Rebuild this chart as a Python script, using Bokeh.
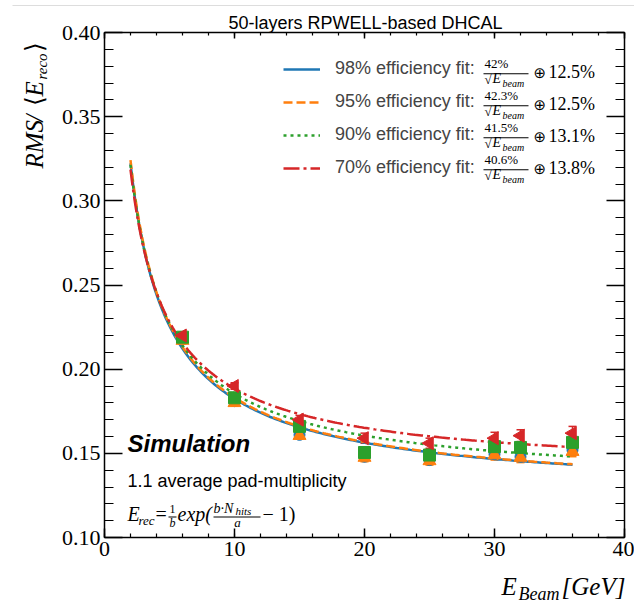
import numpy as np
from bokeh.plotting import figure
from bokeh.models import (Label, LinearAxis, SingleIntervalTicker, PrintfTickFormatter,
                          Legend, LegendItem, Whisker, ColumnDataSource, BoxAnnotation, TeeHead,
                          Range1d)
from bokeh.embed import file_html
from bokeh.resources import INLINE

# ---------------- data ----------------
energies = [6, 10, 15, 20, 25, 30, 32, 36]
eff_labels = ["98% efficiency fit:", "95% efficiency fit:", "90% efficiency fit:", "70% efficiency fit:"]
stoch_terms = ["42%", "42.3%", "41.5%", "40.6%"]
const_terms = ["12.5%", "12.5%", "13.1%", "13.8%"]
fit_a = [0.42, 0.423, 0.415, 0.406]
fit_c = [0.125, 0.125, 0.131, 0.138]
fit_emin = 2
fit_emax = 36

res_98 = [0.218, 0.181, 0.161, 0.148, 0.146, 0.1495, 0.148, 0.152]
res_95 = [0.217, 0.180, 0.1605, 0.1475, 0.1455, 0.149, 0.1475, 0.151]
res_90 = [0.219, 0.183, 0.166, 0.1505, 0.149, 0.154, 0.1535, 0.1565]
res_70 = [0.220, 0.190, 0.170, 0.159, 0.156, 0.159, 0.1605, 0.162]
err_98 = [0.002, 0.002, 0.002, 0.0025, 0.0025, 0.003, 0.003, 0.003]
err_95 = [0.002, 0.002, 0.002, 0.0025, 0.0025, 0.003, 0.003, 0.003]
err_90 = [0.002, 0.002, 0.0025, 0.0025, 0.003, 0.003, 0.003, 0.0035]
err_70 = [0.002, 0.002, 0.0025, 0.003, 0.003, 0.0035, 0.0035, 0.004]

series_vals = [res_98, res_95, res_90, res_70]
series_errs = [err_98, err_95, err_90, err_70]
colors = ["#1f77b4", "#ff7f0e", "#2ca02c", "#d62728"]
dashes = ["solid", "9 4", "3 4", "16 4 3 4"]
markers = ["circle", "triangle", "square", "triangle"]
marker_sizes = [11, 13, 12, 13]
marker_angles = [0, 0, 0, np.pi / 2]

X0, X1 = 0, 40
Y0, Y1 = 0.10, 0.40

# ---------------- geometry (page pixels) ----------------
W, H = 634, 603
PX_L, PX_R, PY_T, PY_B = 104, 624, 32, 537   # where the axes box sits on the page
sx = (PX_R - PX_L) / (X1 - X0)
sy = (PY_B - PY_T) / (Y1 - Y0)
x_range = Range1d(X0 - PX_L / sx, X1 + (W - PX_R) / sx)
y_range = Range1d(Y0 - (H - PY_B) / sy, Y1 + PY_T / sy)

p = figure(width=W, height=H, x_range=x_range, y_range=y_range,
           output_backend="svg", toolbar_location=None,
           x_axis_location=None, y_axis_location=None, min_border=0)
p.min_border_left = p.min_border_right = p.min_border_top = p.min_border_bottom = 0
p.grid.visible = False
p.outline_line_color = None
p.background_fill_color = "white"
p.border_fill_color = "white"

def make_axis(kind, side):
    if kind == "x":
        ax = LinearAxis(ticker=SingleIntervalTicker(interval=10, num_minor_ticks=5),
                        formatter=PrintfTickFormatter(format="%d"),
                        bounds=(X0, X1), fixed_location=(Y0 if side == "below" else Y1))
    else:
        ax = LinearAxis(ticker=SingleIntervalTicker(interval=0.05, num_minor_ticks=5),
                        formatter=PrintfTickFormatter(format="%.2f"),
                        bounds=(Y0, Y1), fixed_location=(X0 if side == "left" else X1))
    ax.axis_line_width = 1.5
    ax.major_tick_line_width = 1.5
    ax.minor_tick_line_width = 1.2
    ax.major_tick_out = 0
    ax.minor_tick_out = 0
    if side == "below":
        ax.major_tick_in = 9
        ax.minor_tick_in = 4
    elif side == "above":
        ax.major_tick_in = 6
        ax.minor_tick_in = 3
    else:
        ax.major_tick_in = 18
        ax.minor_tick_in = 9
    if side in ("below", "left"):
        ax.major_label_text_font = "Liberation Serif"
        ax.major_label_text_font_size = "22px"
        ax.major_label_text_color = "black"
        ax.major_label_standoff = 4
    else:
        ax.major_label_text_color = None
    p.add_layout(ax, side)
    return ax

make_axis("x", "below")
make_axis("x", "above")
make_axis("y", "left")
make_axis("y", "right")

# ---------------- fit curves ----------------
e_fine = np.linspace(fit_emin, fit_emax, 200)
line_renderers = []
for a, c, col, dash in zip(fit_a, fit_c, colors, dashes):
    yv = np.sqrt((a / np.sqrt(e_fine)) ** 2 + c ** 2)
    r = p.line(e_fine, yv, line_color=col, line_width=2.5, line_dash=dash)
    line_renderers.append(r)

# ---------------- data points ----------------
for vals, errs, col, mk, ms, ang in zip(series_vals, series_errs, colors, markers, marker_sizes, marker_angles):
    v = np.array(vals)
    e = np.array(errs)
    src = ColumnDataSource(dict(x=energies, y=v, lo=v - e, hi=v + e))
    w = Whisker(source=src, base="x", upper="hi", lower="lo", dimension="height",
                line_color=col, line_width=1.5,
                upper_head=TeeHead(size=8, line_color=col, line_width=1.5),
                lower_head=TeeHead(size=8, line_color=col, line_width=1.5))
    p.add_layout(w)
    p.scatter("x", "y", source=src, marker=mk, size=ms, angle=ang,
              fill_color=col, line_color=col)

# ---------------- legend ----------------
ROW0 = 69.3
PITCH = 32
items = [LegendItem(label=lbl, renderers=[r]) for lbl, r in zip(eff_labels, line_renderers)]
leg_height = 4 * 20 + 3 * 12
leg_top = ROW0 - 10 + 3
legend = Legend(items=items, location=(283, H - (leg_top + leg_height)),
                padding=0, margin=0, spacing=12, glyph_height=20, glyph_width=37,
                label_height=20, label_standoff=15,
                label_text_font="Liberation Sans", label_text_font_size="18px",
                border_line_color=None, background_fill_alpha=0)
p.add_layout(legend)

BASE_SHIFT = 0.38  # em: measured downward drift of 'alphabetic' anchors

def lab(text, px, py, size, style="normal", font="Liberation Serif", align="left", angle=0.0):
    d = BASE_SHIFT * size
    ax_ = px - np.sin(angle) * d
    ay_ = py - np.cos(angle) * d
    p.add_layout(Label(x=ax_, y=H - ay_, x_units="screen", y_units="screen", text=text,
                       text_font=font, text_font_size=f"{size}px", text_font_style=style,
                       text_align=align, text_baseline="alphabetic", angle=angle,
                       text_color="black"))

def hbar(x0, x1, py, th=1.0, color="black"):
    p.add_layout(BoxAnnotation(left=x0, right=x1, top=H - (py - th / 2),
                               bottom=H - (py + th / 2), left_units="screen",
                               right_units="screen", top_units="screen", bottom_units="screen",
                               fill_color=color, fill_alpha=1.0, line_color=None))

for i, (st, ct) in enumerate(zip(stoch_terms, const_terms)):
    yc = ROW0 + i * PITCH
    lab(st, 484, yc - 1.5, 13)
    hbar(483, 528, yc + 4)
    lab("\u221a", 484, yc + 15, 13)
    lab("E", 492, yc + 14.5, 14, "italic")
    lab("beam", 502, yc + 17, 10, "italic")
    lab("\u2295", 533, yc + 9, 15, font="DejaVu Sans")
    lab(ct, 548, yc + 9, 18)

# ---------------- texts ----------------
lab("50-layers RPWELL-based DHCAL", 365, 29.5, 18, font="Liberation Sans", align="center")
lab("Simulation", 127, 452, 24, "bold italic", font="Liberation Sans")
lab("1.1 average pad-multiplicity", 127, 487, 18, font="Liberation Sans")

# formula E_rec = 1/b exp(b.N_hits/a - 1)
lab("E", 127, 521.5, 20, "italic")
lab("rec", 138, 525, 13, "italic")
lab("=", 155, 521.5, 20)
lab("1", 172, 513, 12, align="center")
hbar(168, 176, 516.5)
lab("b", 172, 527, 12, "italic", align="center")
lab("exp(", 177, 521.5, 20, "italic")
lab("b\u00b7N", 213, 513, 14, "italic")
lab("hits", 235, 515, 11, "italic")
hbar(213, 260, 516.5)
lab("a", 237, 527, 13, "italic", align="center")
lab("\u2212 1)", 262, 521.5, 20)

# y axis label (rotated, reads bottom to top)
ANG = np.pi / 2
lab("RMS", 43, 168, 25, "italic", angle=ANG)
lab("/", 43, 121, 25, "italic", angle=ANG)
lab("\u27e8", 43, 105, 25, angle=ANG)
lab("E", 43, 96, 25, "italic", angle=ANG)
lab("reco", 47, 79, 15, "italic", angle=ANG)
lab("\u27e9", 43, 51, 25, angle=ANG)

# x axis label
lab("E", 501, 595, 25, "italic")
lab("Beam", 518, 600, 18, "italic")
lab("[GeV]", 561, 595, 25, "italic")

# faint page rule at top
hbar(12, W, 5, 1.0, "#dddddd")

open("out.html", "w").write(file_html(p, INLINE))
